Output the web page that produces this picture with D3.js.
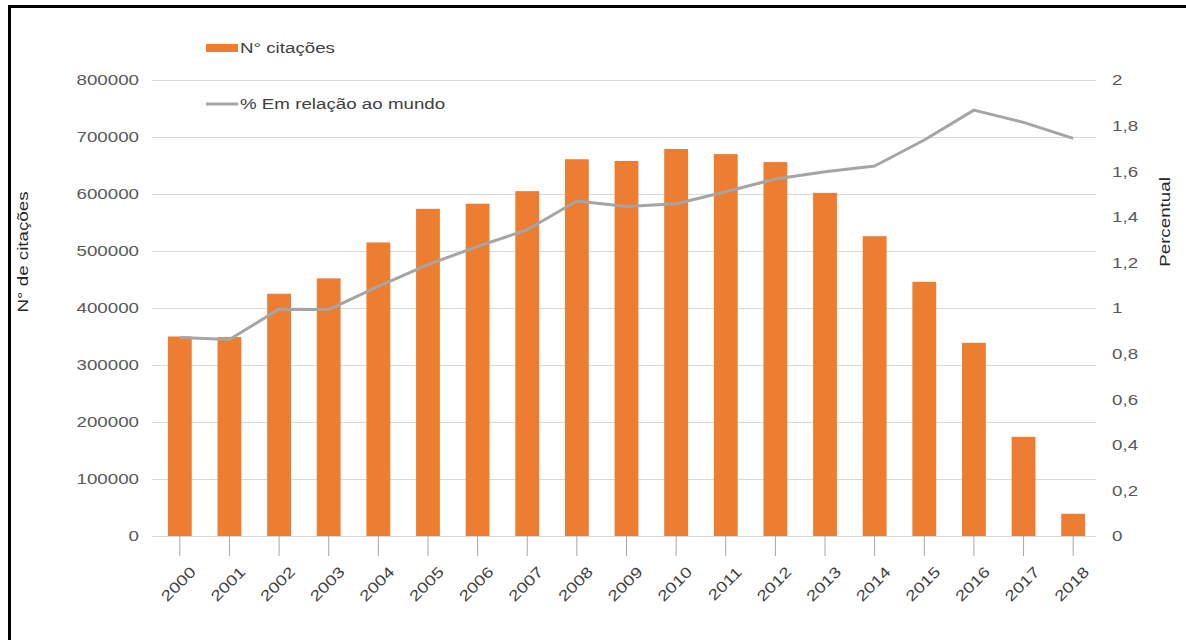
<!DOCTYPE html>
<html>
<head>
<meta charset="utf-8">
<script src="https://cdn.jsdelivr.net/npm/d3@7/dist/d3.min.js"></script>
<style>
  html, body { margin: 0; padding: 0; background: #fff; }
  svg { display: block; }
  text { font-family: "Liberation Sans", Arial, sans-serif; font-size: 15px; }
</style>
</head>
<body>
<svg id="chart" width="1186" height="640"></svg>
<script>
// Citations per year (bars, left axis) and share of world output in % (line, right axis)
const years = ["2000","2001","2002","2003","2004","2005","2006","2007","2008","2009",
               "2010","2011","2012","2013","2014","2015","2016","2017","2018"];
const citations = [350000, 349000, 425000, 452000, 515000, 574000, 583000, 605000, 661000, 658000,
                   679000, 670000, 656000, 602000, 526000, 446000, 339000, 174000, 39000];
const percentWorld = [0.871, 0.862, 0.995, 0.993, 1.095, 1.19, 1.27, 1.343, 1.469, 1.445,
                      1.457, 1.51, 1.566, 1.598, 1.623, 1.737, 1.868, 1.814, 1.744];
const leftTicks = [0, 100000, 200000, 300000, 400000, 500000, 600000, 700000, 800000];
const rightTicks = [0, 0.2, 0.4, 0.6, 0.8, 1, 1.2, 1.4, 1.6, 1.8, 2];

const labelBars = "N° citações";
const labelLine = "% Em relação ao mundo";
const titleLeft = "N° de citações";
const titleRight = "Percentual";

const svg = d3.select("#chart");
const fmtPct = v => String(v).replace(".", ",");
const WIDE = "scale(1.25,1)";   // wide face used for all chart text

const plot = { left: 152, right: 1096, top: 80, bottom: 536 };
const x = d3.scalePoint().domain(years).range([155, 1098]).padding(0.5);
const step = x.step();
const barW = step * 0.48;
const yL = d3.scaleLinear().domain([0, 800000]).range([plot.bottom, plot.top]);
const yR = d3.scaleLinear().domain([0, 2]).range([plot.bottom, plot.top]);

// Frame around the figure
svg.append("rect")
  .attr("x", 9.5).attr("y", 6.5)
  .attr("width", 1200).attr("height", 700)
  .attr("fill", "none").attr("stroke", "#000").attr("stroke-width", 3);

// Horizontal gridlines
svg.append("g").selectAll("line").data(leftTicks).join("line")
  .attr("x1", plot.left).attr("x2", plot.right)
  .attr("y1", d => Math.round(yL(d)) + 0.5).attr("y2", d => Math.round(yL(d)) + 0.5)
  .attr("stroke", "#d9d9d9").attr("stroke-width", 1);

// Left axis labels
svg.append("g").selectAll("text").data(leftTicks).join("text")
  .attr("transform", d => `translate(139,${yL(d)}) ${WIDE}`)
  .attr("dy", "0.36em")
  .attr("text-anchor", "end")
  .attr("fill", "#595959")
  .text(d => d);

// Right axis labels
svg.append("g").selectAll("text").data(rightTicks).join("text")
  .attr("transform", d => `translate(1112,${yR(d)}) ${WIDE}`)
  .attr("dy", "0.36em")
  .attr("fill", "#595959")
  .text(d => fmtPct(d));

// Category tick marks under the baseline
svg.append("g").selectAll("line").data(years).join("line")
  .attr("x1", d => x(d)).attr("x2", d => x(d))
  .attr("y1", plot.bottom).attr("y2", plot.bottom + 20)
  .attr("stroke", "#a6a6a6").attr("stroke-width", 1);

// Bars
svg.append("g").selectAll("rect").data(years).join("rect")
  .attr("x", d => x(d) - barW / 2)
  .attr("width", barW)
  .attr("y", (d, i) => yL(citations[i]))
  .attr("height", (d, i) => yL(0) - yL(citations[i]))
  .attr("fill", "#ed7d31");

// Percentage line
const line = d3.line()
  .x(d => x(d.year))
  .y(d => yR(d.value));
svg.append("path")
  .datum(years.map((year, i) => ({ year, value: percentWorld[i] })))
  .attr("d", line)
  .attr("fill", "none")
  .attr("stroke", "#a5a5a5")
  .attr("stroke-width", 3)
  .attr("stroke-linejoin", "round");

// Rotated year labels
svg.append("g").selectAll("text").data(years).join("text")
  .attr("transform", d => `translate(${x(d) + 17},${573}) rotate(-45) ${WIDE}`)
  .attr("text-anchor", "end")
  .attr("fill", "#404040")
  .text(d => d);

// Axis titles
svg.append("text")
  .attr("transform", "translate(28,252) rotate(-90) " + WIDE)
  .attr("text-anchor", "middle")
  .attr("fill", "#262626")
  .text(titleLeft);
svg.append("text")
  .attr("transform", "translate(1170,222) rotate(-90) " + WIDE)
  .attr("text-anchor", "middle")
  .attr("fill", "#262626")
  .text(titleRight);

// Legend
const legend = svg.append("g");
legend.append("rect")
  .attr("x", 206).attr("y", 44).attr("width", 32).attr("height", 8)
  .attr("fill", "#ed7d31");
legend.append("text")
  .attr("transform", `translate(240,48) ${WIDE}`)
  .attr("dy", "0.36em")
  .attr("fill", "#404040")
  .text(labelBars);
legend.append("line")
  .attr("x1", 206).attr("x2", 238).attr("y1", 104).attr("y2", 104)
  .attr("stroke", "#a5a5a5").attr("stroke-width", 3);
legend.append("text")
  .attr("transform", `translate(240,104) ${WIDE}`)
  .attr("dy", "0.36em")
  .attr("fill", "#404040")
  .text(labelLine);
</script>
</body>
</html>
